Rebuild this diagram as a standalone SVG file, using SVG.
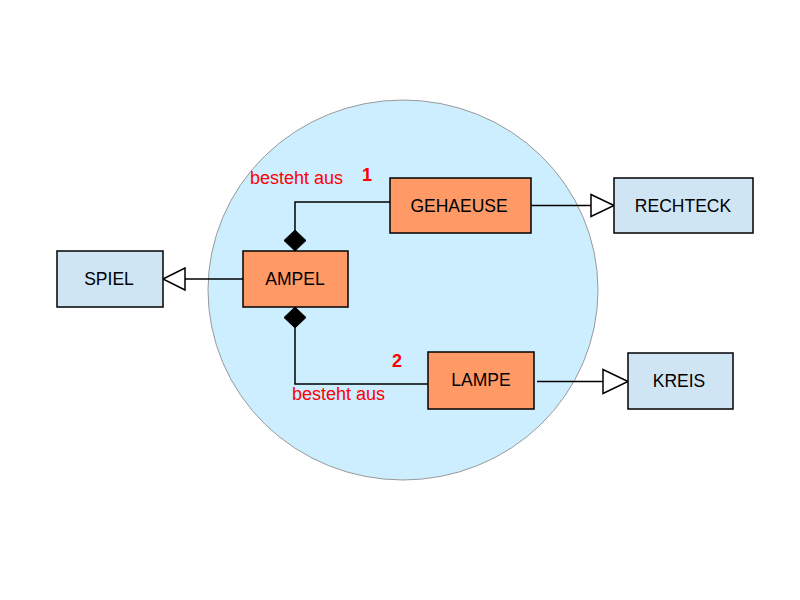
<svg xmlns="http://www.w3.org/2000/svg" width="800" height="600" viewBox="0 0 800 600">
<defs>
<style>
.box{stroke:#000;stroke-width:1.5}
.core{fill:#ff9966}
.ext{fill:#cfe5f3}
.lbl{font-family:"Liberation Sans",Arial,sans-serif;font-size:17.5px;fill:#000;text-anchor:middle}
.rel{font-family:"Liberation Sans",Arial,sans-serif;font-size:18px;fill:#ff0000}
.num{font-family:"Liberation Sans",Arial,sans-serif;font-size:18px;font-weight:bold;fill:#ff0000}
.ln{fill:none;stroke:#000;stroke-width:1.5}
.tri{fill:#fff;stroke:#000;stroke-width:1.5}
.dia{fill:#000;stroke:#000;stroke-width:1}
</style>
</defs>
<rect width="800" height="600" fill="#fff"/>
<ellipse id="scope" cx="403" cy="290" rx="195" ry="190" fill="#cceeff" stroke="#999" stroke-width="1"/>
<g id="connectors">
<polyline class="ln" points="390,202 295,202 295,230"/>
<polygon class="dia" points="295,230 306,240.5 295,251 284,240.5"/>
<polyline class="ln" points="428,384 295,384 295,328"/>
<polygon class="dia" points="295,307 306,317.5 295,328 284,317.5"/>
<line class="ln" x1="243" y1="279" x2="185" y2="279"/>
<polygon class="tri" points="163,279 185,268 185,290"/>
<line class="ln" x1="531" y1="205.5" x2="591" y2="205.5"/>
<polygon class="tri" points="614,205.5 591,194.5 591,216.5"/>
<line class="ln" x1="537" y1="381.5" x2="603" y2="381.5"/>
<polygon class="tri" points="628,381.5 603,369.5 603,393.5"/>
<text class="rel" x="250" y="184">besteht aus</text>
<text class="num" x="362" y="181">1</text>
<text class="rel" x="292" y="400">besteht aus</text>
<text class="num" x="392" y="367">2</text>
</g>
<g id="gehaeuse"><rect class="box core" x="390" y="178" width="141" height="55"/><text class="lbl" x="459" y="212">GEHAEUSE</text></g>
<g id="ampel"><rect class="box core" x="243" y="251" width="105" height="56"/><text class="lbl" x="295" y="285">AMPEL</text></g>
<g id="lampe"><rect class="box core" x="428" y="352" width="106" height="57"/><text class="lbl" x="481" y="386">LAMPE</text></g>
<g id="spiel"><rect class="box ext" x="57" y="251" width="106" height="56"/><text class="lbl" x="109" y="285">SPIEL</text></g>
<g id="rechteck"><rect class="box ext" x="614" y="178" width="139" height="55"/><text class="lbl" x="683" y="212">RECHTECK</text></g>
<g id="kreis"><rect class="box ext" x="628" y="353" width="105" height="56"/><text class="lbl" x="679" y="387">KREIS</text></g>
</svg>
